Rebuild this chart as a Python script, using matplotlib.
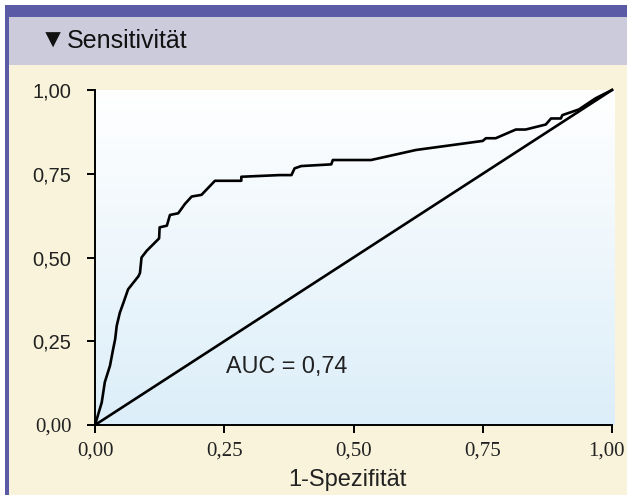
#!/usr/bin/env python3
"""ROC curve for Sensitivität vs. 1-Spezifität (AUC = 0,74)."""
import matplotlib

matplotlib.use("Agg")
import matplotlib.pyplot as plt
import matplotlib.transforms as mtransforms
import numpy as np
from matplotlib.patches import Rectangle

# ROC points
fpr = [0.0, 0.013, 0.019, 0.029, 0.035, 0.039, 0.042, 0.048, 0.055, 0.064,
       0.084, 0.087, 0.090, 0.100, 0.124, 0.125, 0.139, 0.145, 0.161, 0.174,
       0.187, 0.206, 0.232, 0.283, 0.283, 0.357, 0.380, 0.386, 0.399, 0.457,
       0.460, 0.534, 0.621, 0.750, 0.756, 0.775, 0.814, 0.833, 0.872, 0.882,
       0.901, 0.904, 0.936, 0.968, 1.0]
tpr = [0.0, 0.067, 0.128, 0.177, 0.226, 0.256, 0.296, 0.335, 0.365, 0.405,
       0.444, 0.454, 0.500, 0.520, 0.557, 0.590, 0.595, 0.627, 0.632, 0.660,
       0.682, 0.687, 0.729, 0.729, 0.741, 0.746, 0.746, 0.766, 0.773, 0.778,
       0.791, 0.791, 0.821, 0.848, 0.856, 0.856, 0.882, 0.882, 0.897, 0.915,
       0.915, 0.925, 0.942, 0.975, 1.0]
diag = [0.0, 1.0]

ticks = [0.0, 0.25, 0.5, 0.75, 1.0]
tick_labels = ["0,00", "0,25", "0,50", "0,75", "1,00"]
auc_text = "AUC = 0,74"
title_mark = "\u25bc"
title = "Sensitivit\u00e4t"
xlabel = "1-Spezifit\u00e4t"

PURPLE = "#5b5aa6"
LAVENDER = "#cccbdb"
CREAM = "#f8f3da"
SANS = ["Liberation Sans", "DejaVu Sans"]
SERIF = ["Liberation Serif", "DejaVu Serif"]

W, H = 627, 497
fig = plt.figure(figsize=(W / 100, H / 100), dpi=100, facecolor="white")


def px_rect(x0, y0, x1, y1, color):
    # rectangle given in pixel coords (origin top left)
    fig.patches.append(Rectangle((x0 / W, 1 - y1 / H), (x1 - x0) / W, (y1 - y0) / H,
                                 transform=fig.transFigure, color=color, lw=0, zorder=-5))


px_rect(5, 5, W, 17, PURPLE)
px_rect(5, 5, 9, 495, PURPLE)
px_rect(9, 17, W, 65, LAVENDER)
px_rect(9, 65, W, 495, CREAM)

fig.text(40 / W, 1 - 41 / H, title_mark, fontsize=19, family=SANS, color="#111111",
         va="center", ha="left")
fig.text(67 / W, 1 - 41 / H, title, fontsize=18, family=SANS, color="#111111",
         va="center", ha="left")

ax = fig.add_axes([95 / W, 1 - 425 / H, 517 / W, 335 / H])
ax.set_zorder(1)
ax.set_facecolor("none")

# vertical white -> light blue gradient behind the plot
grad = np.linspace(0, 1, 256).reshape(-1, 1)
top = np.array([1.0, 1.0, 1.0])
bottom = np.array([0xdc, 0xee, 0xf9]) / 255
img = top * (1 - grad[..., None]) + bottom * grad[..., None]
ax.imshow(img, extent=[0, 1.005, 0, 1], transform=ax.transAxes, aspect="auto",
          zorder=0, origin="upper", clip_on=False)

ax.plot(fpr, tpr, color="black", lw=1.9, clip_on=False, zorder=3,
        solid_joinstyle="round")
ax.plot(diag, diag, color="black", lw=1.9, clip_on=False, zorder=3)

ax.set_xlim(0, 1)
ax.set_ylim(0, 1)
for side in ("top", "right"):
    ax.spines[side].set_visible(False)
for side in ("left", "bottom"):
    ax.spines[side].set_linewidth(1.4)
    ax.spines[side].set_zorder(4)

ax.set_xticks(ticks)
ax.set_xticklabels(tick_labels, family=SERIF, fontsize=15, color="#222222")
ax.set_yticks(ticks)
ax.set_yticklabels(tick_labels, family=SANS, fontsize=14.5, color="#222222")
for lab in ax.get_yticklabels():
    if lab.get_text() == "0,00":
        lab.set_family(SERIF)
        lab.set_fontsize(15)
ax.tick_params(axis="both", direction="out", length=6, width=1.4, color="black")
ax.tick_params(axis="y", pad=11)
ax.tick_params(axis="x", pad=6)

# last x label sits a little left of its tick so it stays inside the frame
shift = mtransforms.ScaledTranslation(-6 / 100, 0, fig.dpi_scale_trans)
last = ax.get_xticklabels()[-1]
last.set_transform(last.get_transform() + shift)

ax.text(0.253, 0.176, auc_text, fontsize=16.8, family=SANS, color="#222222",
        va="center", ha="left", zorder=5)

fig.text(347 / W, 1 - 480 / H, xlabel, fontsize=17, family=SANS, color="#222222",
         ha="center", va="center")

fig.savefig("out.png", dpi=100, facecolor=fig.get_facecolor())
